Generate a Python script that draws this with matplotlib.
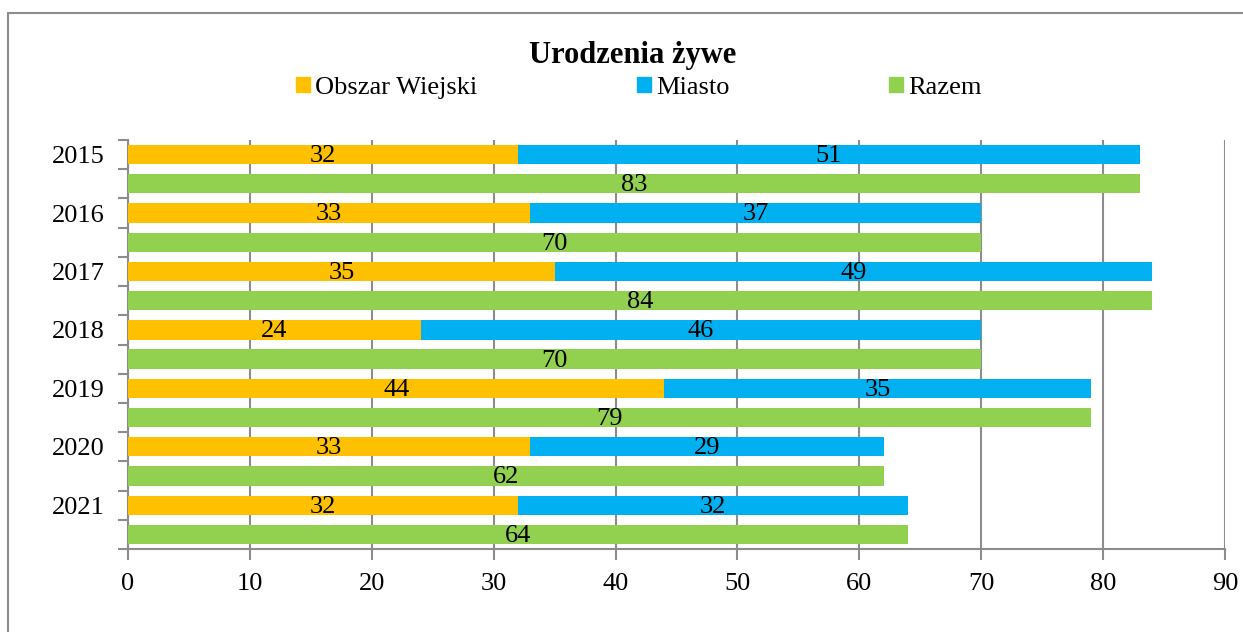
import numpy as np
import matplotlib
matplotlib.use("Agg")
from matplotlib import pyplot as plt
from matplotlib.patches import Rectangle, Patch

years = ["2015", "2016", "2017", "2018", "2019", "2020", "2021"]
wiejski = [32, 33, 35, 24, 44, 33, 32]
miasto = [51, 37, 49, 46, 35, 29, 32]
razem = [83, 70, 84, 70, 79, 62, 64]

C_WIEJ = "#FFC000"
C_MIASTO = "#00B0F0"
C_RAZEM = "#92D050"
GRID = "#8c8c8c"

plt.rcParams["font.family"] = ["Liberation Serif", "DejaVu Serif"]

fig = plt.figure(figsize=(12.43, 6.32), dpi=100)
ax = fig.add_axes([0.103, 0.1313, 0.8825, 0.6472])

# outer frame (cut off on the right and bottom like the reference)
fig.patches.append(Rectangle((8 / 1243, -0.1), 1.2, 1 - 13 / 632 + 0.1,
                             transform=fig.transFigure, fill=False,
                             edgecolor="#8c8c8c", linewidth=1.5))

n = len(years)
y_stack = np.arange(n) * 2
y_total = y_stack + 1
h = 0.66

ax.barh(y_stack, wiejski, height=h, color=C_WIEJ, zorder=3)
ax.barh(y_stack, miasto, left=wiejski, height=h, color=C_MIASTO, zorder=3)
ax.barh(y_total, razem, height=h, color=C_RAZEM, zorder=3)

fs = 19
for i in range(n):
    ax.text(wiejski[i] / 2, y_stack[i] + 0.05, str(wiejski[i]), ha="center",
            va="center", fontsize=fs, zorder=4)
    ax.text(wiejski[i] + miasto[i] / 2, y_stack[i] + 0.05, str(miasto[i]),
            ha="center", va="center", fontsize=fs, zorder=4)
    ax.text(razem[i] / 2, y_total[i] + 0.05, str(razem[i]), ha="center",
            va="center", fontsize=fs, zorder=4)

ax.set_xlim(0, 90)
ax.set_ylim(2 * n - 0.5, -0.5)
ax.set_xticks(np.arange(0, 91, 10))
ax.tick_params(axis="x", labelsize=fs, length=8, color=GRID, width=1.5, pad=9)
ax.set_yticks(np.arange(-0.5, 2 * n, 1))
ax.set_yticklabels([])
ax.tick_params(axis="y", which="major", length=7, color=GRID, width=1.5)
ax.set_yticks(y_stack, minor=True)
ax.set_yticklabels(years, minor=True)
ax.tick_params(axis="y", which="minor", length=0, labelsize=fs, pad=17)

ax.grid(axis="x", color=GRID, linewidth=1.5, zorder=0)
for s in ["top", "right"]:
    ax.spines[s].set_visible(False)
for s in ["left", "bottom"]:
    ax.spines[s].set_color(GRID)
    ax.spines[s].set_linewidth(1.5)

fig.text(0.509, 0.912, "Urodzenia żywe", ha="center", va="center",
         fontsize=22, fontweight="bold")

handles = [Patch(color=C_WIEJ), Patch(color=C_MIASTO), Patch(color=C_RAZEM)]
fig.legend(handles, ["Obszar Wiejski", "Miasto", "Razem"], ncol=3,
           loc="center", bbox_to_anchor=(0.514, 0.861), frameon=False,
           fontsize=fs, handlelength=0.53, handleheight=0.53,
           handletextpad=0.2, columnspacing=6.05)

fig.savefig("out.png", dpi=100)
